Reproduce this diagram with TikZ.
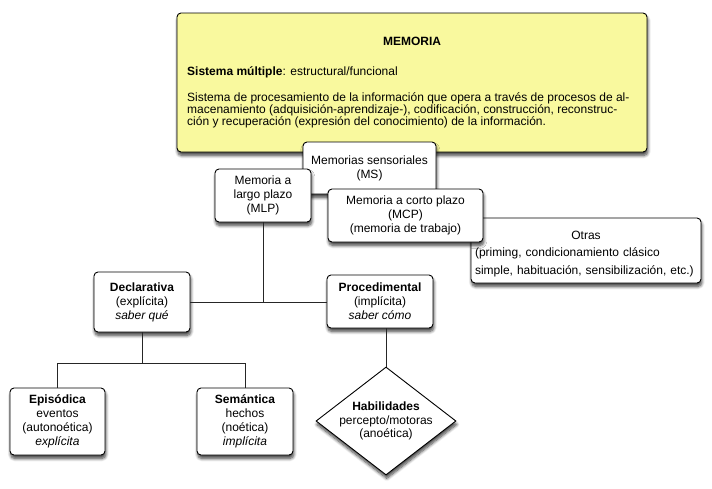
\documentclass[tikz,border=0pt]{standalone}
\usepackage{fontspec}
\setmainfont{Liberation Sans}
\usetikzlibrary{shapes.geometric,shadows.blur,calc}
\definecolor{memyellow}{RGB}{249,249,158}
\begin{document}
\begin{tikzpicture}[x=1pt,y=-1pt,
  font=\fontsize{12}{14}\selectfont,
  box/.style={draw=black, line width=0.9pt, rounded corners=4pt, fill=white,
    align=center, inner sep=2pt,
    blur shadow={shadow xshift=0.8pt, shadow yshift=-3.5pt, shadow blur steps=8,
      shadow blur radius=3pt, shadow opacity=75}},
  conn/.style={draw=black!85, line width=0.9pt},
  plain/.style={inner sep=0pt}]
\useasboundingbox (0,0) rectangle (712,488);

% main yellow box
\node[box, fill=memyellow, minimum width=470pt, minimum height=139pt] (memoria) at (412,82.5) {};
\node[plain, anchor=base, font=\fontsize{12}{14}\selectfont\bfseries] (titulo) at (412,45.5) {MEMORIA};
\node[plain, anchor=base west] (sistema) at (187,75) {\textbf{Sistema múltiple}: estructural/funcional};
\node[plain, anchor=base west] (d1) at (187,101.7) {Sistema de procesamiento de la información que opera a través de procesos de al-};
\node[plain, anchor=base west] (d2) at (187,113.3) {macenamiento (adquisición-aprendizaje-), codificación, construcción, reconstruc-};
\node[plain, anchor=base west] (d3) at (187,125) {ción y recuperación (expresión del conocimiento) de la información.};

% memory systems
\node[box, minimum width=133pt, minimum height=52pt] (ms) at (369.5,168) {Memorias sensoriales\\(MS)};
\node[box, minimum width=230pt, minimum height=65pt, text width=222pt, align=left,
  font=\fontsize{12}{17.5}\selectfont] (otras) at (586,250.5)
  {\rule{0pt}{15pt}\makebox[222pt][c]{Otras}\\(priming, condicionamiento clásico\\simple, habituación, sensibilización, etc.)};
\node[box, minimum width=96pt, minimum height=53pt] (mlp) at (263,195.5) {Memoria a\\largo plazo\\(MLP)};
\node[box, minimum width=155pt, minimum height=53pt] (mcp) at (405.5,215.5) {Memoria a corto plazo\\(MCP)\\(memoria de trabajo)};

% long-term memory subdivisions
\node[box, minimum width=96pt, minimum height=60pt] (decl) at (142,302) {\textbf{Declarativa}\\(explícita)\\\textit{saber qué}};
\node[box, minimum width=106pt, minimum height=53pt] (proc) at (380,301.5) {\textbf{Procedimental}\\(implícita)\\\textit{saber cómo}};
\node[box, minimum width=95pt, minimum height=67pt] (epis) at (57.5,421.5) {\textbf{Episódica}\\eventos\\(autonoética)\\\textit{explícita}};
\node[box, minimum width=96pt, minimum height=67pt] (sem) at (245,421.5) {\textbf{Semántica}\\hechos\\(noética)\\\textit{implícita}};
\node[box, diamond, rounded corners=0pt, inner sep=0pt, minimum width=140pt, minimum height=108pt] (hab) at (386,421) {};
\node[plain, align=center, font=\fontsize{12}{13.5}\selectfont] (habt) at (hab.center) {\textbf{Habilidades}\\percepto/motoras\\(anoética)};

% connectors
\draw[conn] (mlp.south) -- (mlp.south |- decl.east);
\draw[conn] (decl.east) -- (decl.east -| proc.west);
\coordinate (dj) at ($(decl.south)+(0,31)$);
\draw[conn] (decl.south) -- (dj);
\draw[conn] (epis.north) |- (dj) -| (sem.north);
\draw[conn] (hab.north) -- (hab.north |- proc.south);
\end{tikzpicture}
\end{document}
